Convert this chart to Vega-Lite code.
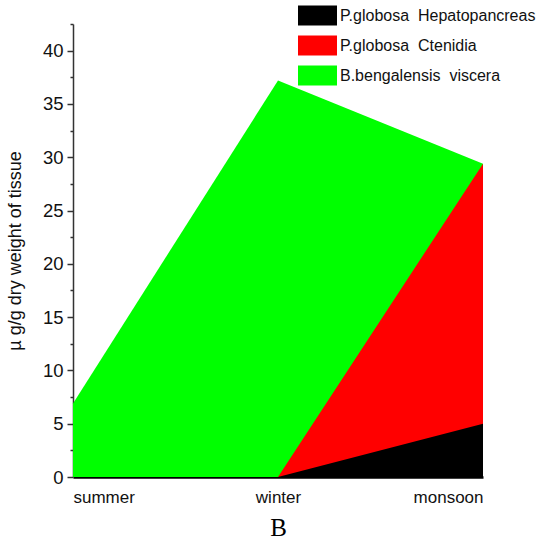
{
  "$schema": "https://vega.github.io/schema/vega-lite/v6.json",
  "autosize": "none",
  "width": 410,
  "height": 453,
  "padding": {"left": 73, "top": 24, "right": 54, "bottom": 65},
  "background": "white",
  "config": {"view": {"stroke": null}, "font": "Liberation Sans"},
  "data": {"values": [
    {"season": "summer", "tissue": "B.bengalensis viscera", "value": 6.9},
    {"season": "winter", "tissue": "B.bengalensis viscera", "value": 37.2},
    {"season": "monsoon", "tissue": "B.bengalensis viscera", "value": 29.4},
    {"season": "summer", "tissue": "P.globosa Ctenidia", "value": 0},
    {"season": "winter", "tissue": "P.globosa Ctenidia", "value": 0},
    {"season": "monsoon", "tissue": "P.globosa Ctenidia", "value": 29.4},
    {"season": "summer", "tissue": "P.globosa Hepatopancreas", "value": 0},
    {"season": "winter", "tissue": "P.globosa Hepatopancreas", "value": 0},
    {"season": "monsoon", "tissue": "P.globosa Hepatopancreas", "value": 5.0}
  ]},
  "encoding": {
    "x": {"field": "season", "type": "ordinal", "sort": ["summer", "winter", "monsoon"],
      "scale": {"type": "point", "padding": 0},
      "axis": {"title": "B", "titleFont": "Liberation Serif", "titleFontSize": 25, "titleFontWeight": "normal", "titleColor": "black", "titlePadding": 10,
        "labelAngle": 0, "labelFlush": true, "labelFontSize": 17, "labelColor": "#111", "labelPadding": 12,
        "ticks": false, "domainColor": "black", "domainWidth": 2.5, "grid": false}},
    "y": {"field": "value", "type": "quantitative", "stack": null,
      "scale": {"domain": [0, 42.5], "nice": false, "zero": true},
      "axis": {"title": "µ g/g dry weight of tissue", "titleFontSize": 18, "titleFontWeight": "normal", "titleColor": "#111", "titlePadding": 18,
        "values": [0, 2.5, 5, 7.5, 10, 12.5, 15, 17.5, 20, 22.5, 25, 27.5, 30, 32.5, 35, 37.5, 40, 42.5],
        "labelExpr": "datum.value % 5 === 0 ? datum.label : ''",
        "tickSize": {"condition": {"test": "datum.value % 5 === 0", "value": 6}, "value": 3},
        "tickColor": "#333", "tickWidth": 1.5, "domainColor": "#333", "domainWidth": 1.5,
        "labelFontSize": 18.5, "labelColor": "#111", "labelPadding": 4, "grid": false}},
    "color": {"field": "tissue", "type": "nominal",
      "scale": {"domain": ["P.globosa Hepatopancreas", "P.globosa Ctenidia", "B.bengalensis viscera"], "range": ["black", "#ff0000", "#00ff00"]},
      "legend": {"title": null, "orient": "none", "legendX": 225, "legendY": -28,
        "symbolType": "M-1,-0.51H1V0.51H-1Z", "symbolSize": 1521, "symbolStrokeWidth": 0, "symbolOpacity": 1,
        "labelExpr": "replace(datum.label, ' ', '\u00a0 ')",
        "labelFontSize": 16, "labelColor": "#111", "labelOffset": 3, "rowPadding": -13, "labelLimit": 300}}
  },
  "layer": [
    {"transform": [{"filter": "datum.tissue === 'B.bengalensis viscera'"}], "mark": {"type": "area", "opacity": 1}},
    {"transform": [{"filter": "datum.tissue === 'P.globosa Ctenidia'"}], "mark": {"type": "area", "opacity": 1}},
    {"transform": [{"filter": "datum.tissue === 'P.globosa Hepatopancreas'"}], "mark": {"type": "area", "opacity": 1}}
  ]
}
